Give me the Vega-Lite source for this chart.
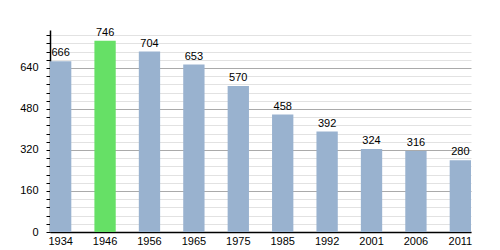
{
  "$schema": "https://vega.github.io/schema/vega-lite/v6.json",
  "width": 421,
  "height": 202,
  "autosize": {"type": "none"},
  "padding": {"left": 50, "top": 30, "right": 29, "bottom": 18},
  "background": "white",
  "config": {
    "view": {"stroke": null},
    "font": "Liberation Sans",
    "axis": {"labelFont": "Liberation Sans", "labelFontSize": 11, "labelColor": "#000"}
  },
  "data": {
    "values": [
      {"year": "1934", "pop": 666, "hl": "no"},
      {"year": "1946", "pop": 746, "hl": "yes"},
      {"year": "1956", "pop": 704, "hl": "no"},
      {"year": "1965", "pop": 653, "hl": "no"},
      {"year": "1975", "pop": 570, "hl": "no"},
      {"year": "1985", "pop": 458, "hl": "no"},
      {"year": "1992", "pop": 392, "hl": "no"},
      {"year": "2001", "pop": 324, "hl": "no"},
      {"year": "2006", "pop": 316, "hl": "no"},
      {"year": "2011", "pop": 280, "hl": "no"}
    ]
  },
  "encoding": {
    "x": {
      "field": "year", "type": "ordinal", "title": null,
      "scale": {"paddingInner": 0.52, "paddingOuter": 0},
      "axis": {"labelAngle": 0, "domainColor": "#000", "domainWidth": 1.5, "ticks": false, "labelPadding": 3}
    },
    "y": {
      "field": "pop", "type": "quantitative", "title": null,
      "scale": {"domain": [0, 788], "nice": false},
      "axis": {
        "values": [0,32,64,96,128,160,192,224,256,288,320,352,384,416,448,480,512,544,576,608,640,672,704,736,768],
        "labelExpr": "datum.value % 160 === 0 ? datum.label : ''",
        "grid": true,
        "gridColor": {"condition": {"test": "datum.value % 160 === 0", "value": "#aaaaaa"}, "value": "#e2e2e2"},
        "domainColor": "#000",
        "domainWidth": 1.5,
        "tickColor": "#000",
        "tickSize": 4,
        "labelPadding": 8,
        "labelBound": false
      }
    }
  },
  "layer": [
    {
      "mark": {"type": "bar"},
      "encoding": {
        "color": {
          "field": "hl", "type": "nominal", "legend": null,
          "scale": {"domain": ["no", "yes"], "range": ["#99b2cf", "#66e066"]}
        }
      }
    },
    {
      "mark": {"type": "text", "dy": -8, "fontSize": 11, "color": "#000", "font": "Liberation Sans"},
      "encoding": {"text": {"field": "pop", "type": "quantitative"}}
    }
  ]
}
